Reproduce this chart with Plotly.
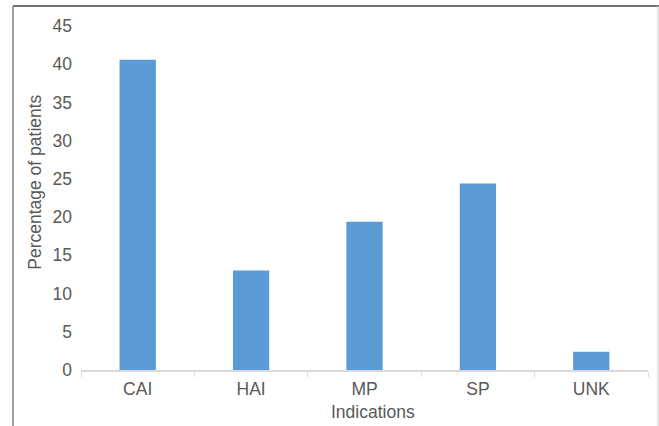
import plotly.graph_objects as go

categories = ["CAI", "HAI", "MP", "SP", "UNK"]
values = [40.6, 13.0, 19.4, 24.4, 2.4]
y_ticks = [0, 5, 10, 15, 20, 25, 30, 35, 40, 45]

fig = go.Figure()
fig.add_trace(go.Bar(x=categories, y=values, marker=dict(color="#5B9BD5", line=dict(width=0)), width=0.32))

W, H = 659, 426
L, R, T, B = 81, 11, 26, 55.5
pw, ph = W - L - R, H - T - B

def px(x):
    return (x - L) / pw

def py(y):
    return 1 - (y - T) / ph

fig.update_layout(
    width=W, height=H,
    margin=dict(l=L, r=R, t=T, b=B, autoexpand=False),
    paper_bgcolor="white", plot_bgcolor="white",
    font=dict(family="Liberation Sans, Arial, sans-serif", size=17.5, color="#595959"),
    showlegend=False,
    xaxis=dict(
        showline=True, linecolor="#d9d9d9", linewidth=1.5,
        ticks="outside", tickson="boundaries", ticklen=5, tickcolor="#d9d9d9",
        showgrid=False, ticklabelstandoff=2,
    ),
    yaxis=dict(
        range=[0, 45], tickvals=y_ticks, showgrid=False, zeroline=False,
        showline=False, ticks="", ticklabelstandoff=8,
    ),
    annotations=[
        dict(text="Indications", xref="paper", yref="paper", x=px(372.5), y=py(413),
             xanchor="center", yanchor="middle", showarrow=False,
             font=dict(size=17.5, color="#595959")),
        dict(text="Percentage of patients", xref="paper", yref="paper", x=px(35), y=py(183),
             xanchor="center", yanchor="middle", showarrow=False, textangle=-90,
             font=dict(size=17.5, color="#595959")),
    ],
    shapes=[
        dict(type="line", xref="paper", yref="paper", x0=px(13), x1=px(659), y0=py(6), y1=py(6),
             line=dict(color="#404040", width=1.5)),
        dict(type="line", xref="paper", yref="paper", x0=px(13), x1=px(13), y0=py(6), y1=py(430),
             line=dict(color="#808080", width=1.5)),
        dict(type="line", xref="paper", yref="paper", x0=px(658), x1=px(658), y0=py(6), y1=py(430),
             line=dict(color="#cccccc", width=1)),
    ],
)

fig.write_html("out.html")
